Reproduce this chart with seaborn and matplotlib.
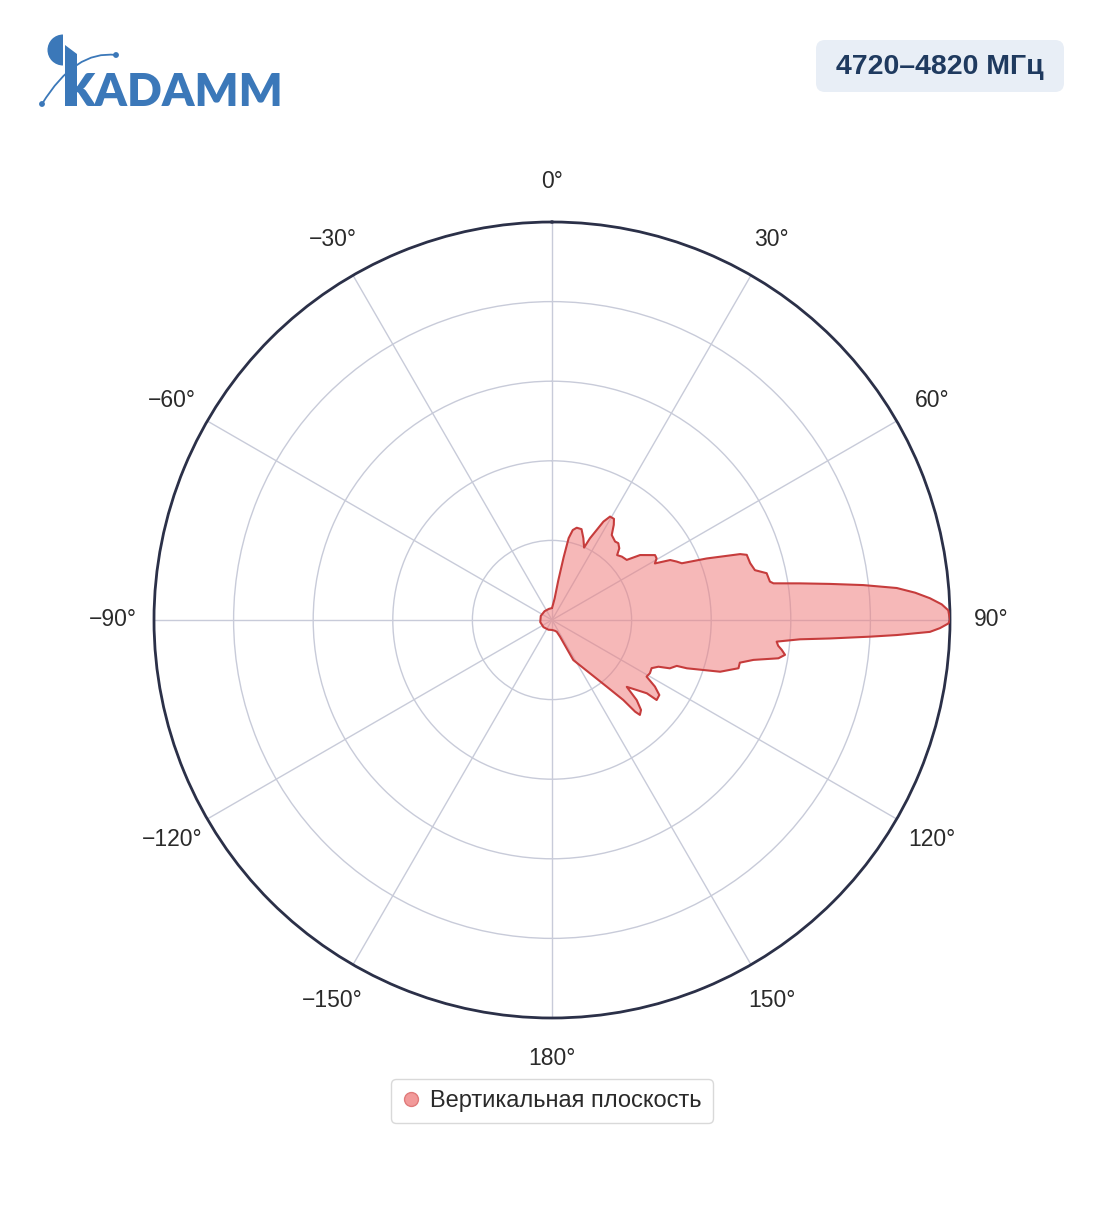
import numpy as np
import pandas as pd
import matplotlib.pyplot as plt
import seaborn as sns
from matplotlib.patches import FancyBboxPatch, Wedge, Polygon, PathPatch, Circle
from matplotlib.path import Path
from matplotlib.lines import Line2D

# Radiation pattern (degrees clockwise from north, normalised gain)
ANGLES_DEG = [0, 4, 7, 9, 10.5, 11.5, 13, 15, 18, 21, 23.9, 24.9, 27.6, 29.3, 31.5, 33,
              35.1, 38.8, 40.8, 43.2, 45.1, 47.8, 51.2, 53.6, 57.8, 59.5, 61.2, 63.1,
              64.9, 66.4, 68.3, 70.7, 71.5, 74.0, 76.2, 77.7, 80.0, 80.6, 81.6, 82.6,
              83.6, 84.7, 85.7, 86.7, 87.7, 88.6, 90, 90.5, 91.2, 91.8, 92.5, 93.0, 93.8,
              94.45, 95.5, 96.5, 97.4, 98.5, 99.6, 101.2, 102.8, 104.5, 107.1, 109.7,
              110.2, 112.3, 113.7, 115.8, 118.5, 120.9, 122.9, 124.95, 127.4, 127.7,
              131.8, 133.4, 135.3, 137.2, 137.8, 138.3, 140.6, 144.5, 152, 154.4, 158,
              165, 180, 200, 230, 260, 290, 320, 345]
GAIN = [0.030, 0.040, 0.055, 0.100, 0.160, 0.210, 0.232, 0.240, 0.240, 0.220, 0.199,
        0.226, 0.279, 0.298, 0.298, 0.285, 0.261, 0.253, 0.255, 0.247, 0.231, 0.237,
        0.241, 0.275, 0.306, 0.305, 0.295, 0.333, 0.346, 0.356, 0.418, 0.501, 0.516,
        0.518, 0.525, 0.552, 0.556, 0.564, 0.630, 0.704, 0.787, 0.870, 0.915, 0.951,
        0.980, 0.996, 1.000, 0.996, 0.975, 0.950, 0.867, 0.800, 0.700, 0.625, 0.567,
        0.572, 0.582, 0.592, 0.577, 0.516, 0.484, 0.484, 0.442, 0.360, 0.334, 0.320,
        0.292, 0.278, 0.280, 0.277, 0.308, 0.329, 0.331, 0.301, 0.252, 0.293, 0.318,
        0.325, 0.311, 0.269, 0.217, 0.165, 0.114, 0.046, 0.032, 0.028, 0.025, 0.026,
        0.028, 0.030, 0.030, 0.029, 0.029]

TICK_ANGLES = [0, 30, 60, 90, 120, 150, 180, 210, 240, 270, 300, 330]
TICK_LABELS = ['0°', '30°', '60°', '90°', '120°', '150°', '180°',
               '−150°', '−120°', '−90°', '−60°', '−30°']
RING_VALUES = [0.2, 0.4, 0.6, 0.8, 1.0]
BAND_LABEL = '4720–4820 МГц'
SERIES_NAME = 'Вертикальная плоскость'
LOGO_TEXT = 'KADAMM'

sns.set_theme(style='white')
plt.rcParams['font.family'] = ['Liberation Sans', 'DejaVu Sans']

df = pd.DataFrame({'theta': np.deg2rad(ANGLES_DEG), 'gain': GAIN})
# close the outline
first = df.iloc[[0]].copy()
first['theta'] += 2 * np.pi
df_closed = pd.concat([df, first], ignore_index=True)

W, H = 1104, 1211
fig = plt.figure(figsize=(W / 100, H / 100), dpi=100)

# header overlay in pixel coordinates
ov = fig.add_axes([0, 0, 1, 1])
ov.set_xlim(0, W)
ov.set_ylim(H, 0)
ov.axis('off')

logo_blue = '#3b78b9'
ov.add_patch(Wedge((63, 50), 15.5, 90, 270, color=logo_blue, lw=0))
ov.add_patch(Polygon([(65, 45), (77, 54), (77, 106), (65, 106)], closed=True,
                     color=logo_blue, lw=0))
arc = Path([(42, 104), (75, 50), (116, 55)], [Path.MOVETO, Path.CURVE3, Path.CURVE3])
ov.add_patch(PathPatch(arc, fill=False, edgecolor=logo_blue, lw=1.3))
ov.add_patch(Circle((42, 104), 2.2, color=logo_blue))
ov.add_patch(Circle((116, 55), 2.2, color=logo_blue))
ov.text(63, 106, LOGO_TEXT, fontsize=33, fontweight='heavy', color=logo_blue,
        ha='left', va='baseline', family=['Lato', 'Liberation Sans', 'DejaVu Sans'])

ov.add_patch(FancyBboxPatch((816, 40), 248, 52, boxstyle='round,pad=0,rounding_size=9',
                            facecolor='#e8eef6', edgecolor='none'))
ov.text(940, 67, BAND_LABEL, fontsize=20.5, fontweight='bold', color='#1f3a5f',
        ha='center', va='center')

# polar chart
cx, cy, R = 552, 620, 398
ax = fig.add_axes([(cx - R) / W, (H - cy - R) / H, 2 * R / W, 2 * R / H], projection='polar')
ax.set_theta_zero_location('N')
ax.set_theta_direction(-1)

ax.fill(df_closed['theta'], df_closed['gain'], color='#ef7f7f', alpha=0.55, lw=0, zorder=2)
sns.lineplot(data=df_closed, x='theta', y='gain', sort=False, estimator=None,
             color='#c63c3c', linewidth=1.5, ax=ax, zorder=3)

ax.set_ylim(0, 1)
ax.set_yticks(RING_VALUES)
ax.set_yticklabels([])
ax.set_xticks(np.deg2rad(TICK_ANGLES))
ax.set_xticklabels([])
for ang, lab in zip(TICK_ANGLES, TICK_LABELS):
    ax.text(np.deg2rad(ang), 1.103, lab, fontsize=16.5, color='#2a2a2a',
            ha='center', va='center', clip_on=False)
ax.grid(True, color='#c8cbd9', linewidth=1)
ax.spines['polar'].set_color('#2b3048')
ax.spines['polar'].set_linewidth(2)
ax.set_xlabel('')
ax.set_ylabel('')

handle = Line2D([], [], marker='o', linestyle='', markersize=10,
                markerfacecolor='#f29a9a', markeredgecolor='#e07b7b', label=SERIES_NAME)
leg = fig.legend(handles=[handle], loc='center', bbox_to_anchor=(0.5, 1 - 1101 / H),
                 frameon=True, fontsize=17, edgecolor='#d0d0d0', fancybox=True,
                 handletextpad=0.45, borderpad=0.45, handlelength=0.75,
                 borderaxespad=0)
for t in leg.get_texts():
    t.set_color('#2a2a2a')

fig.savefig('out.png', dpi=100, facecolor='white')
